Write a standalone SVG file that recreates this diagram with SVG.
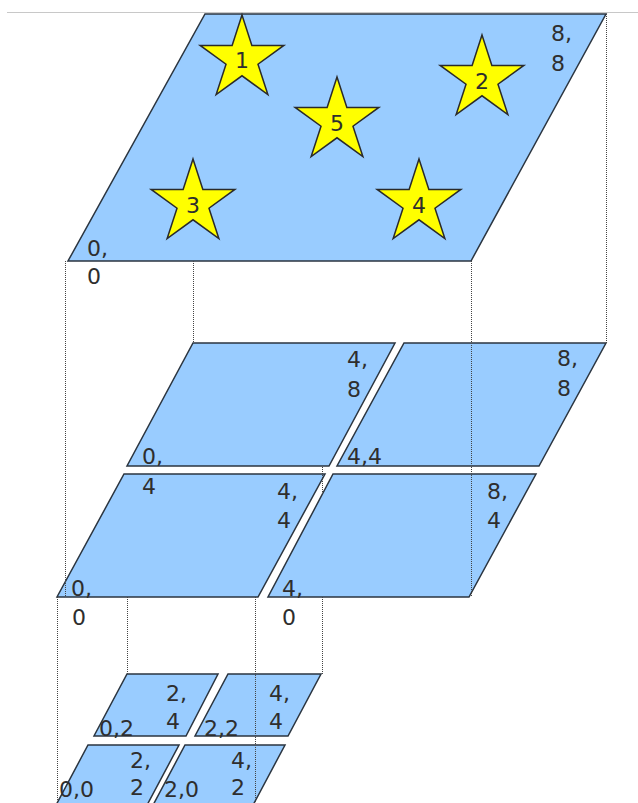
<svg xmlns="http://www.w3.org/2000/svg" xmlns:xlink="http://www.w3.org/1999/xlink" width="638" height="803" viewBox="0 0 638 803">
<style>
.tile{fill:#99ccff;stroke:#2b3540;stroke-width:1.5;stroke-linejoin:miter}
.star{fill:#ffff00;stroke:#2a2a2a;stroke-width:1.5;stroke-linejoin:miter}
text{font-family:"DejaVu Sans",sans-serif;font-size:22px;fill:#2e2e2e}
.sl{text-anchor:middle}
.dot{stroke:#444;stroke-width:1;stroke-dasharray:1 1;fill:none}
</style>
<defs>
<path id="star" d="M0,-44 L9.87,-13.59 L41.85,-13.6 L15.98,5.19 L25.86,35.6 L0,16.8 L-25.86,35.6 L-15.98,5.19 L-41.85,-13.6 L-9.87,-13.59 Z"/>
</defs>
<rect width="638" height="803" fill="#ffffff"/>
<line x1="7" y1="12.5" x2="638" y2="12.5" stroke="#c8c8c8" stroke-width="1"/>

<g id="top-plane">
<polygon class="tile" points="205,14 606,14 471,261 68,261"/>
<text x="551" y="41">8,</text><text x="551" y="71">8</text>
<text x="87" y="256">0,</text><text x="87" y="284">0</text>
</g>
<g id="star-1"><use xlink:href="#star" class="star" transform="translate(242,59)"/><text class="sl" x="242" y="68">1</text></g>
<g id="star-2"><use xlink:href="#star" class="star" transform="translate(482,79)"/><text class="sl" x="482" y="89">2</text></g>
<g id="star-5"><use xlink:href="#star" class="star" transform="translate(337,121)"/><text class="sl" x="337" y="131">5</text></g>
<g id="star-3"><use xlink:href="#star" class="star" transform="translate(193,203)"/><text class="sl" x="193" y="213">3</text></g>
<g id="star-4"><use xlink:href="#star" class="star" transform="translate(419,203)"/><text class="sl" x="419" y="213">4</text></g>

<g id="mid-upper-left">
<polygon class="tile" points="193,343 395,343 329,466 127,466"/>
<text x="347" y="367">4,</text><text x="347" y="397">8</text>
<text x="142" y="464">0,</text>
</g>
<g id="mid-upper-right">
<polygon class="tile" points="404,343 606,343 539,466 337,466"/>
<text x="557" y="366">8,</text><text x="557" y="396">8</text>
<text x="347" y="464">4,4</text>
</g>
<g id="mid-lower-left">
<polygon class="tile" points="124,474 325,474 258,597 57,597"/>
<text x="142" y="494">4</text>
<text x="277" y="499">4,</text><text x="277" y="528">4</text>
<text x="71" y="596">0,</text><text x="72" y="625">0</text>
</g>
<g id="mid-lower-right">
<polygon class="tile" points="333,474 536,474 469,597 268,597"/>
<text x="487" y="499">8,</text><text x="487" y="528">4</text>
<text x="282" y="596">4,</text><text x="282" y="625">0</text>
</g>

<g id="low-upper-left">
<polygon class="tile" points="127,674 218,674 186,736 94,736"/>
<text x="166" y="701">2,</text><text x="166" y="729">4</text>
<text x="99" y="736">0,2</text>
</g>
<g id="low-upper-right">
<polygon class="tile" points="228,674 321,674 288,736 195,736"/>
<text x="269" y="701">4,</text><text x="269" y="729">4</text>
<text x="204" y="736">2,2</text>
</g>
<g id="low-lower-left">
<polygon class="tile" points="88,745 179,745 146,807 55,807"/>
<text x="130" y="768">2,</text><text x="130" y="795">2</text>
<text x="59" y="797">0,0</text>
</g>
<g id="low-lower-right">
<polygon class="tile" points="185,745 285,745 252,807 152,807"/>
<text x="231" y="768">4,</text><text x="231" y="795">2</text>
<text x="164" y="797">2,0</text>
</g>

<g id="connectors">
<line class="dot" x1="65.5" y1="261" x2="65.5" y2="597"/>
<line class="dot" x1="193.5" y1="261" x2="193.5" y2="343"/>
<line class="dot" x1="471.5" y1="261" x2="471.5" y2="597"/>
<line class="dot" x1="606.5" y1="14" x2="606.5" y2="343"/>
<line class="dot" x1="322.5" y1="467" x2="322.5" y2="495"/>
<line class="dot" x1="57.5" y1="597" x2="57.5" y2="803"/>
<line class="dot" x1="127.5" y1="597" x2="127.5" y2="674"/>
<line class="dot" x1="255.5" y1="597" x2="255.5" y2="803"/>
<line class="dot" x1="322.5" y1="597" x2="322.5" y2="674"/>
</g>
</svg>
